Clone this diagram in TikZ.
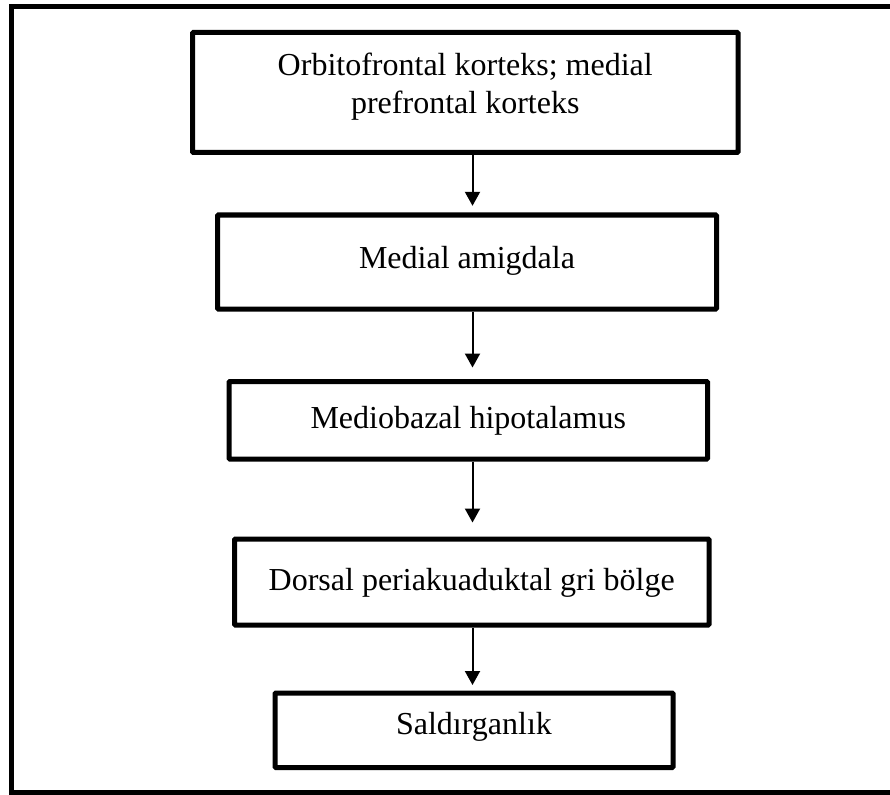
\documentclass[tikz,border=0pt]{standalone}
\usepackage{fontspec}
\setmainfont{Liberation Serif}
\usetikzlibrary{arrows.meta}
\begin{document}
\begin{tikzpicture}[x=1pt,y=-1pt,
  box/.style={draw,line width=5pt,rounded corners=1pt,inner sep=0pt},
  lbl/.style={font=\fontsize{32}{38}\selectfont,anchor=base,inner sep=0pt,align=center},
  arr/.style={line width=2pt,-{Triangle[width=15pt,length=14pt]}},
  frame/.style={line width=5pt}]
\useasboundingbox (0,0) rectangle (890,794);
% outer frame (right side lies beyond the picture)
\draw[frame] (900,6.8) -- (11.5,6.8) -- (11.5,792.5) -- (900,792.5);
% boxes
\node[box,minimum width=545.5pt,minimum height=120pt] (b1) at (465.25,92.5) {};
\node[box,minimum width=499pt,minimum height=94pt] (b2) at (467,262) {};
\node[box,minimum width=478.5pt,minimum height=77.5pt] (b3) at (468.25,420.25) {};
\node[box,minimum width=474.5pt,minimum height=86pt] (b4) at (471.75,582) {};
\node[box,minimum width=398pt,minimum height=74.5pt] (b5) at (474,730.25) {};
% texts
\node[lbl] (t1) at (465.25,114) {Orbitofrontal korteks; medial\\prefrontal korteks};
\node[lbl] (t2) at (467,268.5) {Medial amigdala};
\node[lbl] (t3) at (468.25,428) {Mediobazal hipotalamus};
\node[lbl] (t4) at (471.75,590) {Dorsal periakuaduktal gri bölge};
\node[lbl] (t5) at (474,734) {Saldırganlık};
% arrows
\coordinate (ax) at (472.5,0);
\draw[arr,shorten >=6.7pt] (b1.south -| ax) -- (b2.north -| ax);
\draw[arr,shorten >=11.5pt] (b2.south -| ax) -- (b3.north -| ax);
\draw[arr,shorten >=14pt] (b3.south -| ax) -- (b4.north -| ax);
\draw[arr,shorten >=5.5pt] (b4.south -| ax) -- (b5.north -| ax);
\end{tikzpicture}
\end{document}
